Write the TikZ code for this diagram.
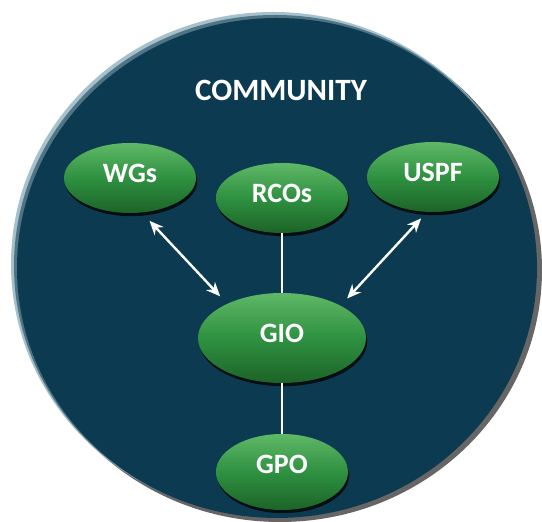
\documentclass[tikz,border=0pt]{standalone}
\usepackage{fontspec}
\setmainfont{Carlito}
\usetikzlibrary{shapes.geometric,arrows.meta,shadows}
\definecolor{navy}{HTML}{0C3B51}
\definecolor{rimlight}{HTML}{9DBAC6}
\definecolor{gtop}{HTML}{5FB866}
\definecolor{gmid}{HTML}{2E9141}
\definecolor{gbot}{HTML}{1D6327}
\begin{document}
\begin{tikzpicture}[x=0.5pt,y=-0.5pt,
  bubble/.style={ellipse, inner sep=0pt, top color=gtop, bottom color=gbot, middle color=gmid,
    draw=none, text=white, font=\bfseries\fontsize{14}{14}\selectfont,
    drop shadow={shadow xshift=0.6pt, shadow yshift=-1.6pt, opacity=0.75, fill=black}},
  small/.style={bubble, minimum width=66pt, minimum height=35pt},
  link/.style={draw=white, line width=1.2pt},
  dlink/.style={link, {Stealth[length=7pt,width=6pt]}-{Stealth[length=7pt,width=6pt]}}]
\useasboundingbox (0,0) rectangle (542,522);
% community disc with bevelled rim
\fill[black, opacity=0.6] (280,270) ellipse [x radius=131pt, y radius=126pt];
\fill[rimlight, opacity=0.9] (273,264) ellipse [x radius=131pt, y radius=126pt];
\fill[navy!70!rimlight, opacity=0.8] (275,266) ellipse [x radius=130.5pt, y radius=125.5pt];
\fill[navy] (277,268) ellipse [x radius=130pt, y radius=125pt];
\node[text=white, font=\bfseries\fontsize{15.5}{15.5}\selectfont] (title) at (281,90) {COMMUNITY};
% nodes
\node[small] (WGs) at (130,178) {\raisebox{5pt}{WGs}};
\node[small] (RCOs) at (282,198) {\raisebox{5pt}{RCOs}};
\node[small] (USPF) at (433,177) {\raisebox{5pt}{USPF}};
\node[bubble, minimum width=84pt, minimum height=45pt] (GIO) at (282,338) {\raisebox{5pt}{GIO}};
\node[bubble, minimum width=66pt, minimum height=38pt] (GPO) at (282,472) {\raisebox{8pt}{GPO}};
% connectors
\draw[link] (RCOs.south) -- (GIO.north);
\draw[link] (GIO.south) -- (GPO.north);
\draw[dlink, shorten <=5.5pt, shorten >=5pt] (WGs.-71) -- (GIO.148);
\draw[dlink, shorten <=4.2pt, shorten >=4.7pt] (USPF.-100) -- (GIO.29);
\end{tikzpicture}
\end{document}
